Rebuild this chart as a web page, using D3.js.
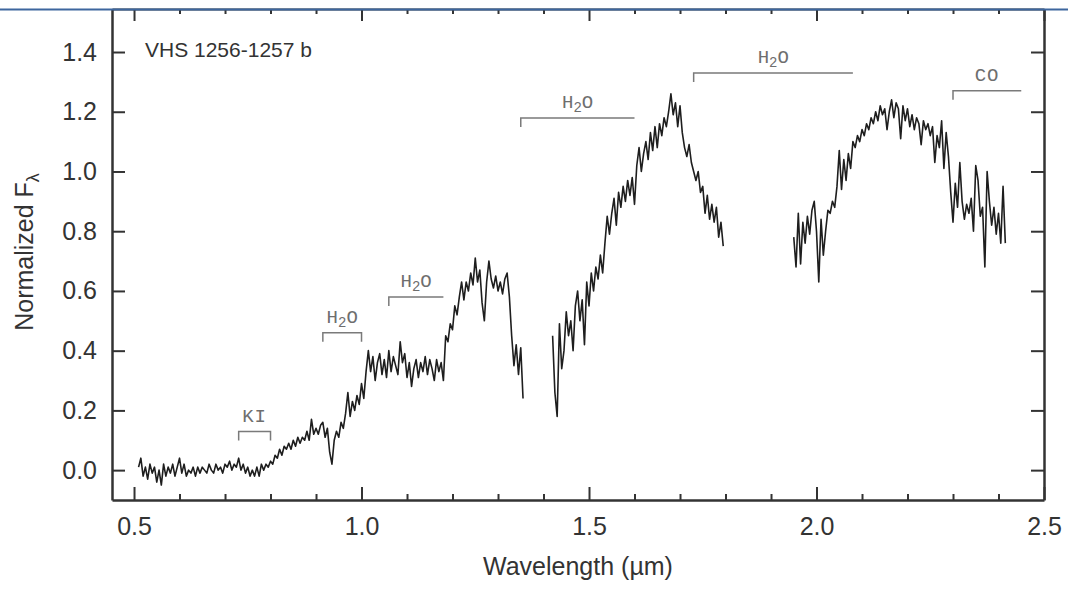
<!DOCTYPE html>
<html><head><meta charset="utf-8">
<script src="https://cdn.jsdelivr.net/npm/d3@7"></script>
<style>body{margin:0;background:#fff}svg{display:block}</style>
</head><body><svg id="c" width="1068" height="589"></svg>
<script>
// ---- data ----
const sampleStep = 0.005; // µm between spectral samples
const seg1Start = 0.510;
const seg1Flux = [
 0.01,0.04,-0.02,0.01,-0.03,0.02,-0.01,0.01,-0.04,0.00,
 -0.05,0.02,-0.02,0.01,-0.01,0.02,-0.02,0.01,0.04,-0.01,
 0.02,-0.02,0.00,-0.01,0.01,-0.02,0.01,-0.01,0.01,0.00,
 -0.01,0.02,0.00,-0.01,0.02,0.00,0.01,-0.01,0.02,0.01,
 0.03,0.00,0.02,0.01,0.04,0.00,0.02,-0.01,0.01,-0.02,
 0.00,-0.02,0.01,-0.02,0.02,0.00,0.02,0.01,0.03,0.02,
 0.05,0.04,0.07,0.05,0.08,0.07,0.09,0.07,0.10,0.08,
 0.11,0.09,0.11,0.10,0.13,0.10,0.17,0.12,0.14,0.12,
 0.15,0.16,0.11,0.14,0.06,0.02,0.10,0.13,0.11,0.16,
 0.14,0.19,0.26,0.18,0.23,0.20,0.25,0.22,0.29,0.24,
 0.33,0.40,0.33,0.38,0.30,0.36,0.39,0.32,0.37,0.31,
 0.40,0.33,0.38,0.35,0.32,0.43,0.36,0.39,0.31,0.36,
 0.28,0.34,0.37,0.31,0.36,0.33,0.38,0.32,0.37,0.34,
 0.30,0.37,0.33,0.36,0.30,0.45,0.43,0.49,0.47,0.55,
 0.52,0.58,0.63,0.57,0.63,0.60,0.66,0.62,0.71,0.63,
 0.67,0.56,0.50,0.63,0.70,0.64,0.61,0.65,0.60,0.63,
 0.59,0.64,0.66,0.58,0.45,0.35,0.42,0.32,0.41,0.24
];
const seg2Start = 1.420;
const seg2Flux = [
 0.45,0.26,0.18,0.49,0.34,0.40,0.53,0.45,0.50,0.40,
 0.55,0.60,0.50,0.57,0.42,0.63,0.55,0.66,0.60,0.68,
 0.64,0.72,0.66,0.76,0.85,0.79,0.86,0.91,0.82,0.93,
 0.88,0.95,0.90,0.97,0.92,0.98,0.89,1.02,1.08,1.00,
 1.06,1.10,1.04,1.13,1.07,1.15,1.08,1.16,1.12,1.18,
 1.15,1.20,1.26,1.19,1.23,1.15,1.22,1.13,1.08,1.05,
 1.09,1.03,1.00,0.97,1.00,0.93,0.95,0.86,0.92,0.84,
 0.89,0.83,0.88,0.78,0.83,0.75
];
const seg3Start = 1.950;
const seg3Flux = [
 0.78,0.68,0.86,0.69,0.83,0.76,0.85,0.79,0.87,0.90,
 0.80,0.63,0.84,0.72,0.80,0.87,0.86,0.90,0.88,0.95,
 1.07,0.94,1.04,0.97,1.06,1.01,1.10,1.08,1.12,1.10,
 1.14,1.12,1.16,1.14,1.18,1.16,1.20,1.17,1.22,1.19,
 1.21,1.14,1.20,1.24,1.18,1.23,1.21,1.11,1.22,1.17,
 1.21,1.15,1.19,1.14,1.18,1.16,1.09,1.17,1.14,1.16,
 1.12,1.15,1.03,1.12,1.08,1.17,1.01,1.13,1.05,0.93,
 0.83,0.96,0.88,1.03,0.90,0.84,0.89,0.86,0.91,0.80,
 1.02,0.97,0.85,0.88,0.68,1.00,0.90,0.82,0.88,0.79,
 0.86,0.76,0.95,0.76
];
const xMajorTicks = [0.5, 1.0, 1.5, 2.0, 2.5];
const xMinorTicks = [0.6,0.7,0.8,0.9,1.1,1.2,1.3,1.4,1.6,1.7,1.8,1.9,2.1,2.2,2.3,2.4];
const yTicks = [0.0, 0.2, 0.4, 0.6, 0.8, 1.0, 1.2, 1.4];
const bandLabels = ["KI", "H2O", "H2O", "H2O", "H2O", "CO"];
const bandStart  = [0.73, 0.915, 1.06, 1.35, 1.73, 2.30];
const bandEnd    = [0.80, 1.00, 1.18, 1.60, 2.08, 2.45];
const bandLevel  = [0.129, 0.46, 0.58, 1.179, 1.33, 1.27];
const bandBothEnds = [true, true, false, false, false, false];
const objectName = "VHS 1256-1257 b";
const xTitle = "Wavelength (\u00b5m)";
const yTitle = "Normalized F";
const yTitleSub = "\u03bb";

// ---- chart ----
const svg = d3.select("#c");
svg.append("rect").attr("width",1068).attr("height",589).attr("fill","#fff");
const L = 112, R = 1044, T = 9, B = 500;
const x = d3.scaleLinear().domain([0.4516, 2.5]).range([L, R]);
const y = d3.scaleLinear().domain([-0.1, 1.544]).range([B, T]);
const axisColor = "#333";
const sans = "'Liberation Sans', Arial, Helvetica, sans-serif";
const mono = "'Liberation Mono', 'Courier New', monospace";

function styleAxis(g, w) {
  g.selectAll("path.domain").attr("stroke", axisColor).attr("stroke-width", w);
  g.selectAll(".tick line").attr("stroke", axisColor).attr("stroke-width", 2);
  g.selectAll(".tick text").attr("fill", "#333").style("font-family", sans).style("font-size", "25px");
}

// bottom
const gb = svg.append("g").attr("transform", `translate(0,${B})`)
  .call(d3.axisBottom(x).tickValues(xMajorTicks).tickSizeInner(-13).tickSizeOuter(0).tickPadding(17).tickFormat(d3.format(".1f")));
styleAxis(gb, 2.5);
const gbm = svg.append("g").attr("transform", `translate(0,${B})`)
  .call(d3.axisBottom(x).tickValues(xMinorTicks).tickSizeInner(-6).tickSizeOuter(0).tickFormat(""));
gbm.select("path.domain").remove(); styleAxis(gbm, 0);
// top
const gt = svg.append("g").attr("transform", `translate(0,${T})`)
  .call(d3.axisTop(x).tickValues(xMajorTicks).tickSizeInner(-12).tickSizeOuter(0).tickFormat(""));
styleAxis(gt, 2);
const gtm = svg.append("g").attr("transform", `translate(0,${T})`)
  .call(d3.axisTop(x).tickValues(xMinorTicks).tickSizeInner(-5).tickSizeOuter(0).tickFormat(""));
gtm.select("path.domain").remove(); styleAxis(gtm, 0);
// left
const gl = svg.append("g").attr("transform", `translate(${L},0)`)
  .call(d3.axisLeft(y).tickValues(yTicks).tickSizeInner(-13).tickSizeOuter(0).tickPadding(15).tickFormat(d3.format(".1f")));
styleAxis(gl, 2.5);
// right
const gr = svg.append("g").attr("transform", `translate(${R},0)`)
  .call(d3.axisRight(y).tickValues(yTicks).tickSizeInner(-13).tickSizeOuter(0).tickFormat(""));
styleAxis(gr, 2.5);

// blue rule at top
svg.append("line").attr("x1",0).attr("x2",1068).attr("y1",9.5).attr("y2",9.5)
  .attr("stroke","#3d669e").attr("stroke-width",2);

// spectrum
const segments = [[seg1Start, seg1Flux],[seg2Start, seg2Flux],[seg3Start, seg3Flux]]
  .map(([s, f]) => f.map((v, i) => [s + i * sampleStep, v]));
const line = d3.line().x(d => x(d[0])).y(d => y(d[1]));
svg.append("g").selectAll("path").data(segments).join("path")
  .attr("d", line).attr("fill","none").attr("stroke","#1e1e1e").attr("stroke-width",1.6)
  .attr("stroke-linejoin","round");

// band brackets
const bands = bandLabels.map((l, i) => ({label:l, x0:bandStart[i], x1:bandEnd[i], lv:bandLevel[i], both:bandBothEnds[i]}));
const bg = svg.append("g");
bands.forEach(b => {
  const yy = y(b.lv), tick = 9;
  let p = `M${x(b.x0)},${yy+tick}V${yy}H${x(b.x1)}`;
  if (b.both) p += `V${yy+tick}`;
  bg.append("path").attr("d", p).attr("fill","none").attr("stroke","#7a7a7a").attr("stroke-width",1.5);
  const t = bg.append("text").attr("x", (x(b.x0)+x(b.x1))/2).attr("y", yy-10)
    .attr("text-anchor","middle").attr("fill","#6e6e6e")
    .style("font-family", mono).style("font-size","19px");
  if (b.label === "H2O") {
    t.append("tspan").text("H");
    t.append("tspan").attr("dy",4).style("font-size","14px").text("2");
    t.append("tspan").attr("dy",-4).text("O");
  } else {
    t.text(b.label).attr("letter-spacing","1px");
  }
});

// object name
svg.append("text").attr("x",145).attr("y",57).attr("fill","#333")
  .style("font-family",sans).style("font-size","21px").text(objectName);

// axis titles
svg.append("text").attr("x",(L+R)/2).attr("y",575).attr("text-anchor","middle").attr("fill","#333")
  .style("font-family",sans).style("font-size","25px").text(xTitle);
const yt = svg.append("text").attr("transform","translate(33,252) rotate(-90)").attr("text-anchor","middle")
  .attr("fill","#333").style("font-family",sans).style("font-size","25px");
yt.append("tspan").text(yTitle);
yt.append("tspan").attr("dy",6).style("font-size","18px").text(yTitleSub);
</script></body></html>
